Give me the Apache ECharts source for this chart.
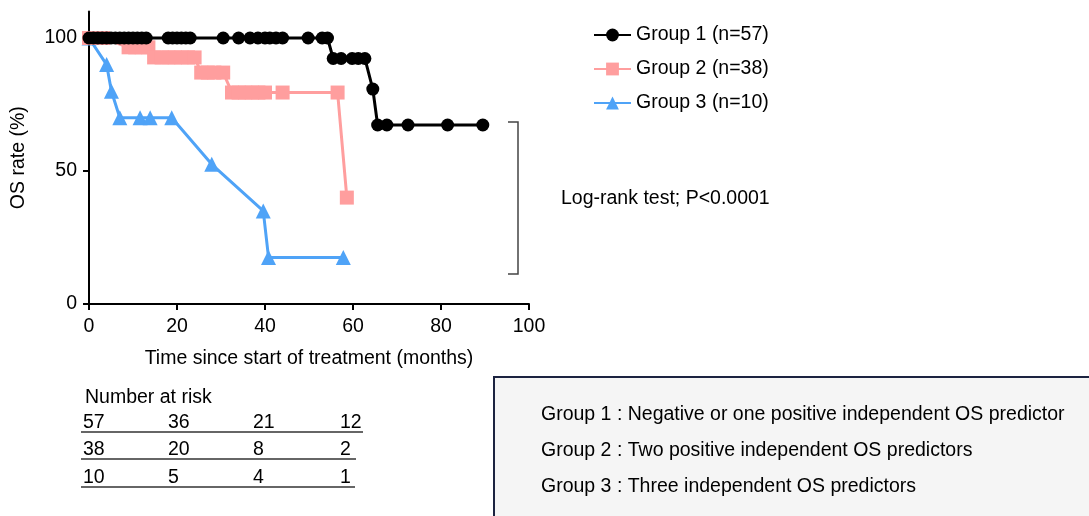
<!DOCTYPE html>
<html><head><meta charset="utf-8">
<script src="https://cdn.jsdelivr.net/npm/echarts@6/dist/echarts.min.js"></script>
<style>html,body{margin:0;padding:0;background:#fff}#c{width:1089px;height:516px}</style>
</head><body><div id="c"></div>
<script>
var FONT = '"Liberation Sans", Arial, Helvetica, sans-serif';
var FS = 19.5;
var seriesNames = ['Group 1 (n=57)', 'Group 2 (n=38)', 'Group 3 (n=10)'];
var g1 = [[0,100],[1,100],[2,100],[3,100],[4,100],[5,100],[6,100],[7,100],[8,100],[9,100],[10,100],[11,100],[12,100],[13,100],[18,100],[19,100],[20,100],[21,100],[22,100],[23,100],[30.5,100],[34,100],[36.6,100],[38.4,100],[40,100],[41.1,100],[42.5,100],[44,100],[49.8,100],[53,100],[54.2,100],[55.5,92.3],[57.3,92.3],[59.8,92.3],[61.2,92.3],[62.7,92.3],[64.5,80.8],[65.6,67.3],[67.7,67.3],[72.5,67.3],[81.5,67.3],[89.5,67.3]];
var g2 = [[0,100],[1,100],[2,100],[3.2,100],[9,96.5],[10.5,96.5],[12,96.5],[13.5,96.5],[14.8,92.7],[16.5,92.7],[18,92.7],[19.5,92.7],[21,92.7],[22.5,92.7],[24,92.7],[25.5,87],[27,87],[28.5,87],[30.5,87],[32.5,79.5],[34,79.5],[35.5,79.5],[37,79.5],[38.5,79.5],[40,79.5],[44,79.5],[56.5,79.5],[58.6,40]];
var g3 = [[0,100],[4,90],[5.1,80],[7,70],[11.6,70],[13.9,70],[18.8,70],[27.9,52.5],[39.6,35],[40.8,17.5],[57.8,17.5]];
var xTicks = [0,20,40,60,80,100];
var yTicks = [0,50,100];
var riskTitle = 'Number at risk';
var riskRows = [[57,36,21,12],[38,20,8,2],[10,5,4,1]];
var testText = 'Log-rank test; P<0.0001';
var groupNotes = ['Group 1 : Negative or one positive independent OS predictor','Group 2 : Two positive independent OS predictors','Group 3 : Three independent OS predictors'];

var colors = ['#000000','#ff9e9e','#4fa3f7'];
var chart = echarts.init(document.getElementById('c'));

function txt(x, cy, s){
  return {type:'text', x:x, y:cy, style:{text:s, font:FS+'px '+FONT, fill:'#000', verticalAlign:'middle', align:'left'}};
}
var graphics = [];
graphics.push(txt(85, 398, riskTitle));
var colX = [83,168,253,340];
var rowY = [423,450,478];
var lineEnds = [363,356,355];
var lineY = [432,459,487];
riskRows.forEach(function(r,i){
  r.forEach(function(v,j){ graphics.push(txt(colX[j], rowY[i], String(v))); });
  graphics.push({type:'line', shape:{x1:81,y1:lineY[i],x2:lineEnds[i],y2:lineY[i]}, style:{stroke:'#333',lineWidth:1.5}});
});
graphics.push({type:'polyline', shape:{points:[[508,122],[518,122],[518,274],[508,274]]}, style:{stroke:'#444',lineWidth:1.5,fill:null}});
graphics.push(txt(561, 199, testText));
graphics.push({type:'rect', shape:{x:494,y:377,width:620,height:160}, style:{fill:'#f5f5f5',stroke:'#1c2340',lineWidth:2}});
var noteY = [415,451,487];
groupNotes.forEach(function(t,i){ graphics.push(txt(541, noteY[i], t)); });

function mkSeries(name, data, sym, size, color, z){
  return {name:name, type:'line', data:data, symbol:sym, symbolSize:size, z:z,
    showAllSymbol:true, animation:false,
    lineStyle:{color:color,width:3}, itemStyle:{color:color}, emphasis:{disabled:true}};
}

chart.setOption({
  animation:false,
  textStyle:{fontFamily:FONT},
  grid:{left:89, right:560, top:11.4, bottom:212, containLabel:false},
  legend:{orient:'vertical', left:593, top:25, padding:0, itemWidth:37, itemHeight:16, itemGap:14, itemTextGap:6,
    data:seriesNames, textStyle:{fontSize:FS, color:'#000', fontFamily:FONT}},
  xAxis:{type:'value', min:0, max:100, interval:20,
    name:'Time since start of treatment (months)', nameLocation:'middle', nameGap:45,
    nameTextStyle:{fontSize:FS,color:'#000',fontFamily:FONT},
    axisLine:{lineStyle:{color:'#000',width:2}},
    axisTick:{length:6,lineStyle:{color:'#000',width:2}},
    axisLabel:{fontSize:FS,color:'#000',margin:13,fontFamily:FONT},
    splitLine:{show:false}},
  yAxis:{type:'value', min:0, max:110, interval:50,
    name:'OS rate (%)', nameLocation:'middle', nameGap:60, nameRotate:90,
    nameTextStyle:{fontSize:FS,color:'#000',fontFamily:FONT},
    axisLine:{show:true,lineStyle:{color:'#000',width:2}},
    axisTick:{show:true,length:6,lineStyle:{color:'#000',width:2}, customValues:yTicks},
    axisLabel:{fontSize:FS,color:'#000',margin:12,fontFamily:FONT, customValues:yTicks},
    splitLine:{show:false}},
  series:[
    mkSeries(seriesNames[0], g1, 'circle', 13, colors[0], 4),
    mkSeries(seriesNames[1], g2, 'rect', 14, colors[1], 3),
    mkSeries(seriesNames[2], g3, 'triangle', 15, colors[2], 2)
  ],
  graphic:graphics
});
</script></body></html>
